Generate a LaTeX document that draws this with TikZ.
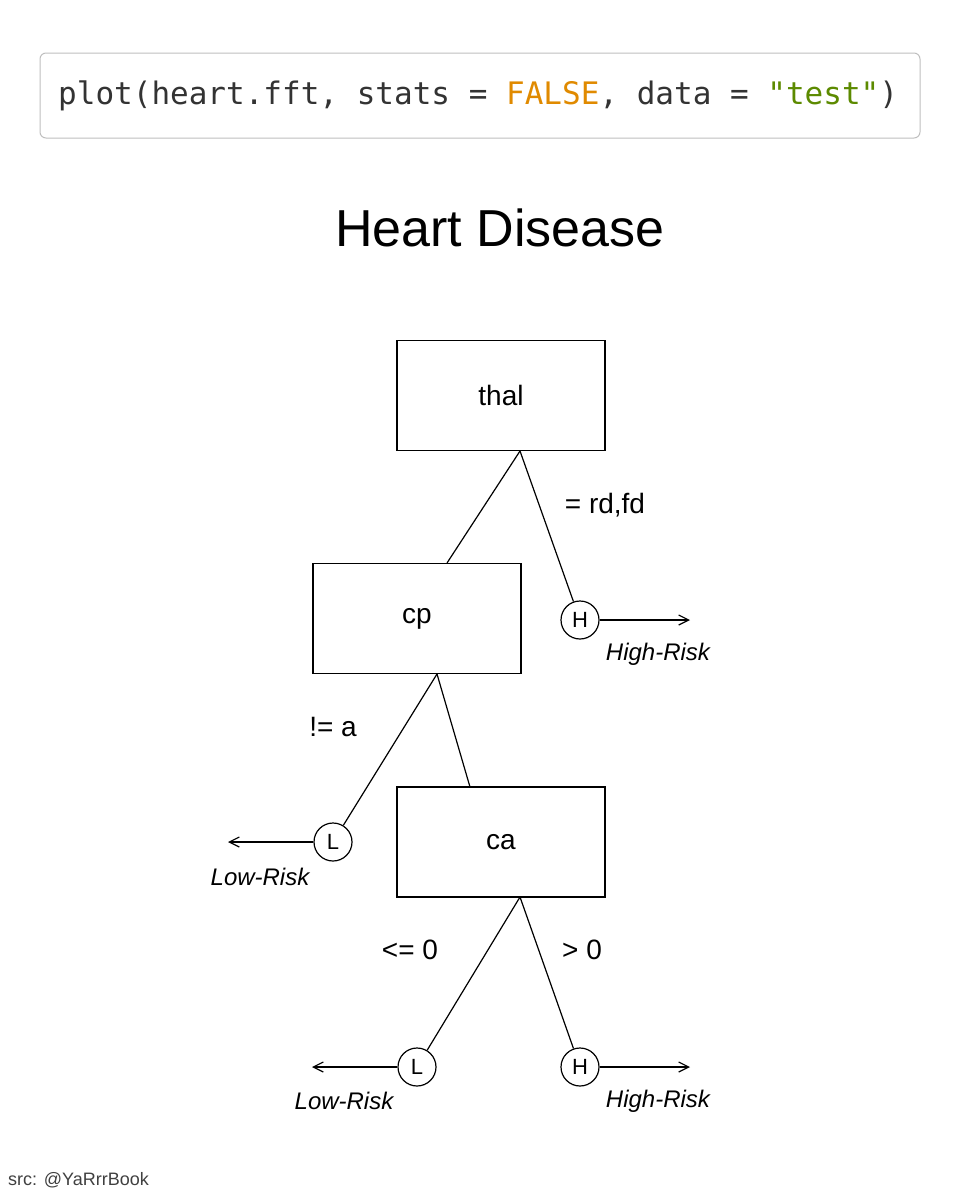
\documentclass[tikz,border=0pt]{standalone}
\usepackage{fontspec}
\setmainfont{Liberation Sans}
\newfontfamily\codefont{DejaVu Sans Mono}
\usetikzlibrary{arrows.meta}
\definecolor{falsec}{HTML}{E08A00}
\definecolor{strc}{HTML}{5C8A00}
\definecolor{codec}{HTML}{333333}
\begin{document}
\begin{tikzpicture}[x=1pt,y=-1pt,
  box/.style={draw,line width=1.2pt,minimum width=208pt,minimum height=110pt,inner sep=0pt,font=\fontsize{28}{30}\selectfont},
  leaf/.style={draw,circle,line width=1.2pt,minimum size=38pt,inner sep=0pt,font=\fontsize{22}{24}\selectfont},
  lab/.style={font=\fontsize{28}{30}\selectfont},
  risk/.style={font=\fontsize{24}{26}\selectfont\itshape},
  edge/.style={line width=1.2pt},
  exitarrow/.style={line width=1.2pt,-{Straight Barb[length=10pt,width=10pt]}}]
\useasboundingbox (0,0) rectangle (970,1200);
\node[draw=gray!50,rounded corners=6pt,line width=1pt,minimum width=880pt,minimum height=85pt] (code) at (480,95.5) {};
\node[anchor=west,text=codec,font=\codefont\fontsize{31}{33}\selectfont,inner sep=0pt] (codetext) at (58,96) {plot(heart.fft, stats = \textcolor{falsec}{FALSE}, data = \textcolor{strc}{"test"})};
\node[font=\fontsize{52}{56}\selectfont] (title) at (500,228) {Heart Disease};
\node[box] (thal) at (501,395.5) {thal};
\node[box] (cp) at (417,618.5) {cp};
\node[box] (ca) at (501,842) {ca};
\node[leaf] (H1) at (580,620) {H};
\node[leaf] (L1) at (333,842) {L};
\node[leaf] (L2) at (417,1067) {L};
\node[leaf] (H2) at (580,1067) {H};
\coordinate (t) at (520,451);
\coordinate (c) at (437,674);
\coordinate (a) at (520,897);
\draw[edge] (t) -- (447,563);
\draw[edge] (t) -- (H1);
\draw[edge] (c) -- (470,787);
\draw[edge] (c) -- (L1);
\draw[edge] (a) -- (L2);
\draw[edge] (a) -- (H2);
\coordinate (e1) at (690,620);
\coordinate (e2) at (228,842);
\coordinate (e3) at (312,1067);
\coordinate (e4) at (690,1067);
\draw[exitarrow] (H1) -- (e1);
\draw[exitarrow] (L1) -- (e2);
\draw[exitarrow] (L2) -- (e3);
\draw[exitarrow] (H2) -- (e4);
\node[lab] (l1) at (605,505) {= rd,fd};
\node[lab] (l2) at (333,727) {!= a};
\node[lab] (l3) at (410,950) {<= 0};
\node[lab] (l4) at (582,950) {> 0};
\node[risk] (r1) at (658,654) {High-Risk};
\node[risk] (r2) at (260,877) {Low-Risk};
\node[risk] (r3) at (344,1101) {Low-Risk};
\node[risk] (r4) at (658,1101) {High-Risk};
\node[anchor=west,text=black!75,font=\fontsize{18}{20}\selectfont,inner sep=0pt] (src) at (8,1180) {src: @YaRrrBook};
\end{tikzpicture}
\end{document}
